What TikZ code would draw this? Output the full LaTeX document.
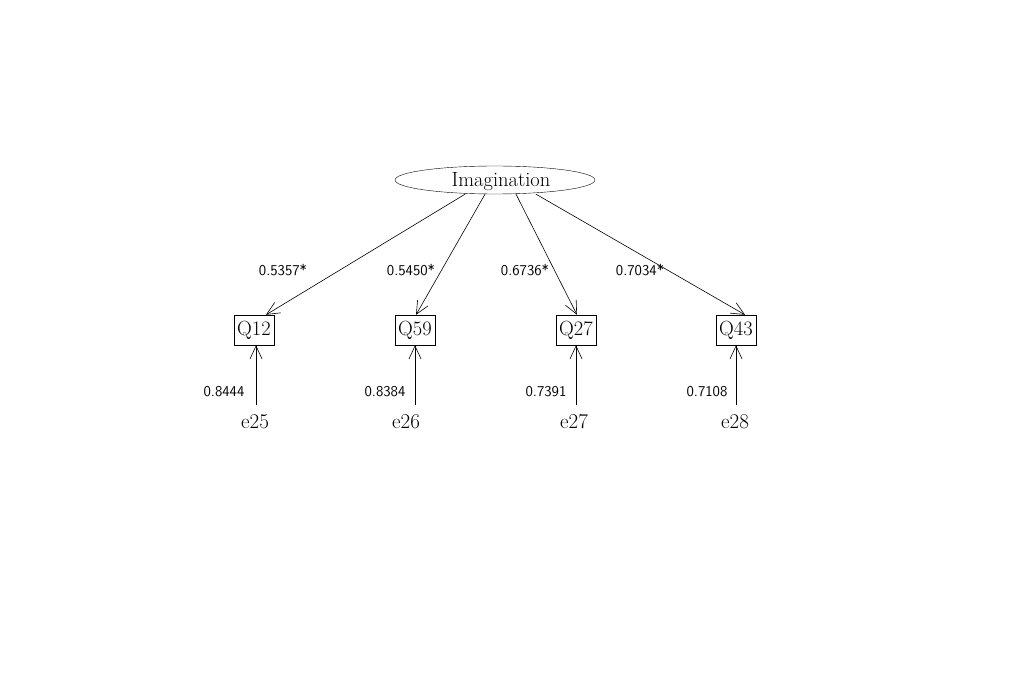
\documentclass[tikz,border=0pt]{standalone}
\usepackage{fontspec}
\usetikzlibrary{arrows.meta,shapes.geometric}
\begin{document}
\begin{tikzpicture}[x=1pt,y=-1pt,
  every node/.style={inner sep=0pt},
  latent/.style={draw,ellipse,minimum width=200pt,minimum height=28pt},
  obs/.style={draw,rectangle,minimum width=40pt,minimum height=30pt,font=\fontsize{20.5}{22}\selectfont},
  err/.style={font=\fontsize{21}{22}\selectfont},
  lbl/.style={font=\sffamily\fontsize{15}{16}\selectfont},
  path/.style={draw,line width=0.6pt,-{Straight Barb[length=13pt,width=12pt,line width=0.6pt]}}
]
\useasboundingbox (0,0) rectangle (1024,692);
\node[latent] (F) at (495,180) {};
\node[font=\fontsize{20.5}{22}\selectfont] (Ft) at (501,182) {Imagination};
\node[obs] (Q12) at (254,330) {Q12};
\node[obs] (Q59) at (415,330) {Q59};
\node[obs] (Q27) at (576,330) {Q27};
\node[obs] (Q43) at (736,330) {Q43};
\node[err] (e25) at (255,422) {e25};
\node[err] (e26) at (406,422) {e26};
\node[err] (e27) at (574,422) {e27};
\node[err] (e28) at (735,422) {e28};
\coordinate (s25) at (256,405);
\coordinate (s26) at (415,405);
\coordinate (s27) at (576,405);
\coordinate (s28) at (736,405);
\path[path] ([xshift=-30pt]F.south) -- ([xshift=12pt]Q12.north);
\path[path] ([xshift=-10pt]F.south) -- ([xshift=1pt]Q59.north);
\path[path] ([xshift=21pt]F.south) -- ([xshift=1pt]Q27.north);
\path[path] ([xshift=41pt]F.south) -- ([xshift=9pt]Q43.north);
\path[path] (s25) -- (Q12.south -| s25);
\path[path] (s26) -- (Q59.south);
\path[path] (s27) -- (Q27.south);
\path[path] (s28) -- (Q43.south);
\node[lbl] (l1) at (283,270) {0.5357*};
\node[lbl] (l2) at (411,270) {0.5450*};
\node[lbl] (l3) at (525,270) {0.6736*};
\node[lbl] (l4) at (640,270) {0.7034*};
\node[lbl] (v1) at (224,392) {0.8444};
\node[lbl] (v2) at (385,392) {0.8384};
\node[lbl] (v3) at (546,392) {0.7391};
\node[lbl] (v4) at (707,392) {0.7108};
\end{tikzpicture}
\end{document}
